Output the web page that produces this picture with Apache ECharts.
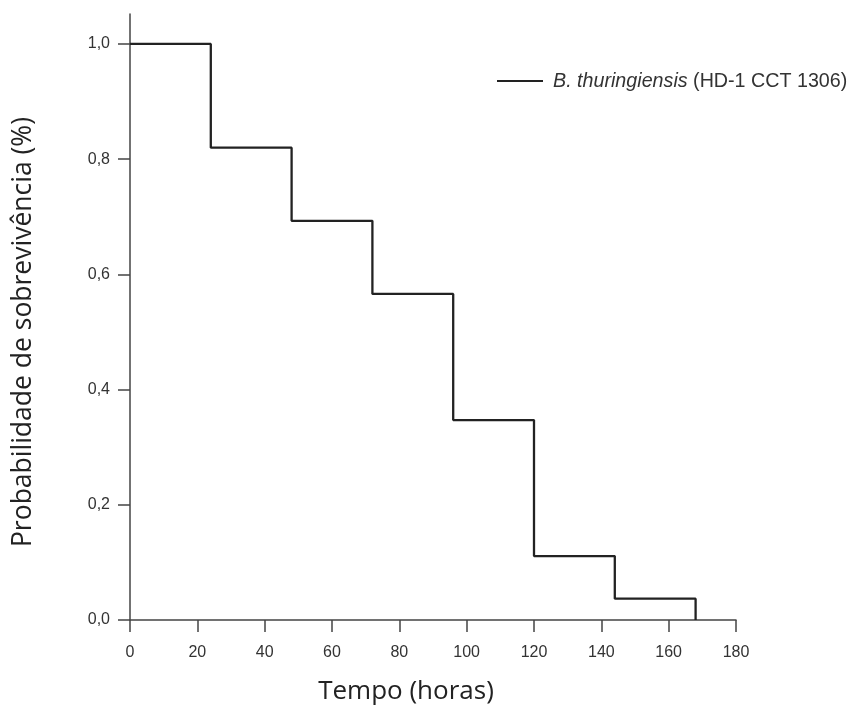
<!DOCTYPE html>
<html>
<head>
<meta charset="utf-8">
<script src="https://cdn.jsdelivr.net/npm/echarts@6/dist/echarts.min.js"></script>
<style>
  html, body { margin: 0; padding: 0; background: #fff; }
  #chart { width: 856px; height: 711px; }
</style>
</head>
<body>
<div id="chart"></div>
<script>
// Kaplan-Meier survival curve (time in hours)
var timeHours = [0, 24, 48, 72, 96, 120, 144, 168];
var survival = [1.0, 0.82, 0.693, 0.566, 0.347, 0.111, 0.037, 0.0];
var xTicks = [0, 20, 40, 60, 80, 100, 120, 140, 160, 180];
var yTicks = [0, 0.2, 0.4, 0.6, 0.8, 1.0];
var seriesName = 'B. thuringiensis (HD-1 CCT 1306)';

var points = timeHours.map(function (t, i) { return [t, survival[i]]; });

var axisColor = '#444';
var labelFont = '"Liberation Sans", Arial, sans-serif';
var titleFont = '"Open Sans", "Noto Sans", sans-serif';

var chart = echarts.init(document.getElementById('chart'), null, { renderer: 'canvas' });
chart.setOption({
  backgroundColor: '#fff',
  animation: false,
  grid: { left: 130, right: 120, top: 14, bottom: 91, containLabel: false, outerBoundsMode: 'none' },
  legend: {
    left: 497,
    top: 72,
    padding: 0,
    icon: 'rect',
    itemWidth: 46,
    itemHeight: 2,
    itemGap: 8,
    data: [seriesName],
    formatter: function () {
      return '{i|B. thuringiensis} {n|(HD-1 CCT 1306)}';
    },
    textStyle: {
      color: '#333',
      fontFamily: labelFont,
      fontSize: 19.7,
      padding: [2, 0, 0, 5],
      rich: {
        i: { fontStyle: 'italic', fontFamily: labelFont, fontSize: 19.7, color: '#333' },
        n: { fontFamily: labelFont, fontSize: 19.7, color: '#333' }
      }
    }
  },
  xAxis: {
    type: 'value',
    min: 0,
    max: 180,
    interval: 20,
    name: 'Tempo (horas)',
    nameLocation: 'middle',
    nameGap: 59,
    nameTextStyle: {
      fontFamily: titleFont, fontSize: 26, color: '#222',
      padding: [0, 54, 0, 0]
    },
    splitLine: { show: false },
    axisLine: { show: true, onZero: false, lineStyle: { color: axisColor, width: 1.5 } },
    axisTick: { show: true, length: 12, lineStyle: { color: axisColor, width: 1.5 },
      customValues: xTicks },
    axisLabel: { margin: 25, color: '#333', fontFamily: labelFont, fontSize: 16,
      customValues: xTicks }
  },
  yAxis: {
    type: 'value',
    min: 0,
    max: 1.052,
    name: 'Probabilidade de sobrevivência (%)',
    nameLocation: 'middle',
    nameGap: 93,
    nameRotate: 90,
    nameTextStyle: {
      fontFamily: titleFont, fontSize: 26.5, color: '#222',
      padding: [0, 30, 0, 0]
    },
    splitLine: { show: false },
    axisLine: { show: true, onZero: false, lineStyle: { color: axisColor, width: 1.5 } },
    axisTick: { show: true, length: 12, lineStyle: { color: axisColor, width: 1.5 },
      customValues: yTicks },
    axisLabel: {
      margin: 20, color: '#333', fontFamily: labelFont, fontSize: 16,
      customValues: yTicks,
      formatter: function (v) { return v.toFixed(1).replace('.', ','); }
    }
  },
  series: [{
    name: seriesName,
    type: 'line',
    step: 'end',
    symbol: 'none',
    data: points,
    lineStyle: { color: '#222', width: 2.3 },
    itemStyle: { color: '#222' }
  }]
});
</script>
</body>
</html>
